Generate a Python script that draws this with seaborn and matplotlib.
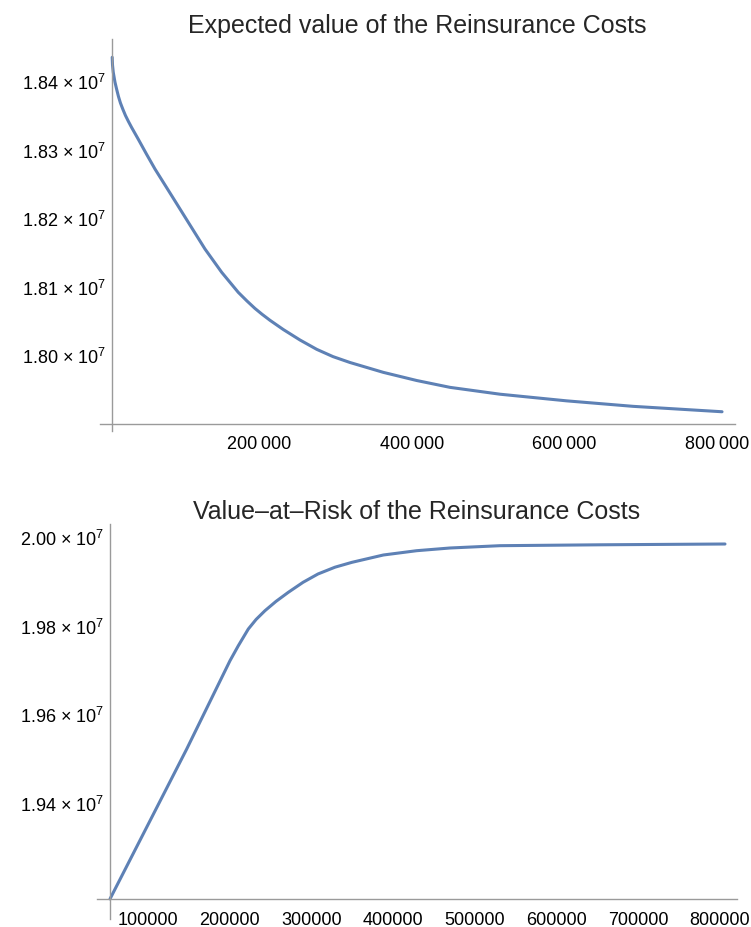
import matplotlib
matplotlib.use('Agg')
import matplotlib.pyplot as plt
import matplotlib.ticker as mticker
from matplotlib.transforms import ScaledTranslation
import seaborn as sns

# values
ev_limit = [300, 700, 1700, 3900, 6200, 8500, 11100, 14400, 17700, 21600, 25800,
            34500, 45200, 56400, 78300, 100100, 122000, 143900, 165600, 177100,
            187500, 196700, 207200, 224700, 246600, 268500, 289800, 312100,
            355800, 399600, 443300, 508900, 596300, 683300, 800000]
ev_cost = [18434600, 18423400, 18412700, 18398500, 18387600, 18377400, 18367900,
           18358400, 18349600, 18340900, 18332100, 18315000, 18293400, 18271500,
           18232600, 18193700, 18154700, 18120700, 18091500, 18078800, 18068000,
           18059600, 18050700, 18037200, 18021900, 18008300, 17997700, 17989100,
           17974700, 17962800, 17952800, 17942800, 17933100, 17925100, 17917200]

var_limit = [47240, 141100, 194100, 204300, 216500, 226000, 236900, 250400,
             265500, 283500, 301800, 322600, 343400, 381800, 422600, 463400,
             524600, 647000, 800000]
var_cost = [19184000, 19521900, 19721100, 19754900, 19792500, 19814000, 19833800,
            19854800, 19875300, 19897800, 19916600, 19931900, 19942900, 19959400,
            19969100, 19975200, 19980400, 19982400, 19984200]

ev_xticks = [200000, 400000, 600000, 800000]
ev_yticks = [1.80e7, 1.81e7, 1.82e7, 1.83e7, 1.84e7]
var_xticks = [100000, 200000, 300000, 400000, 500000, 600000, 700000, 800000]
var_yticks = [1.94e7, 1.96e7, 1.98e7, 2.00e7]

LINE = '#5E81B5'
AXC = '#9a9a9a'

sns.set_style('white')
plt.rcParams['font.family'] = ['Liberation Sans', 'DejaVu Sans']

fig = plt.figure(figsize=(7.51, 9.28), dpi=100)
ax1 = fig.add_axes([100 / 751, 496 / 928, 635 / 751, 392 / 928])
ax2 = fig.add_axes([97 / 751, 8 / 928, 640 / 751, 395 / 928])


def sci_label(v, pos):
    return f'{v / 1e7:.2f} × 10$^{{\\mathregular{{7}}}}$'


def style_axes(ax, x0, y0, xticks, yticks, xminor, yminor, xfmt, xpad):
    for s in ['top', 'right']:
        ax.spines[s].set_visible(False)
    ax.spines['left'].set_position(('data', x0))
    ax.spines['bottom'].set_position(('data', y0))
    for s in ['left', 'bottom']:
        ax.spines[s].set_color(AXC)
        ax.spines[s].set_linewidth(1.0)
    ax.set_xticks(xticks)
    ax.set_yticks(yticks)
    ax.xaxis.set_minor_locator(mticker.MultipleLocator(xminor))
    ax.yaxis.set_minor_locator(mticker.MultipleLocator(yminor))
    ax.xaxis.set_major_formatter(mticker.FuncFormatter(xfmt))
    ax.yaxis.set_major_formatter(mticker.FuncFormatter(sci_label))
    ax.tick_params(which='both', direction='in', color='#777777', width=0.75,
                   labelsize=13, labelcolor='black')
    ax.tick_params(axis='x', which='major', length=3, pad=xpad)
    ax.tick_params(axis='x', which='minor', length=2)
    ax.tick_params(axis='y', which='major', length=3, pad=4.3)
    ax.tick_params(axis='y', which='minor', length=2)
    ax.set_xlabel('')
    ax.set_ylabel('')
    ax.grid(False)
    # number labels sit a little left of their ticks in the original
    shift = ScaledTranslation(-5 / 100, 0, fig.dpi_scale_trans)
    for lab in ax.get_xticklabels():
        lab.set_transform(lab.get_transform() + shift)


# top: expected value
sns.lineplot(x=ev_limit, y=ev_cost, ax=ax1, color=LINE, linewidth=2.2,
             solid_joinstyle='round')
ax1.set_xlim(-15700, 817000)
ax1.set_ylim(17889100, 18461300)
style_axes(ax1, 0, 17899300, ev_xticks, ev_yticks, 50000, 20000,
           lambda v, p: f'{int(v) // 1000}\u2009{int(v) % 1000:03d}', 7.6)
ax1.set_title('Expected value of the Reinsurance Costs', fontsize=18, pad=5)

# bottom: value-at-risk
sns.lineplot(x=var_limit, y=var_cost, ax=ax2, color=LINE, linewidth=2.2,
             solid_joinstyle='round')
ax2.set_xlim(31300, 814700)
ax2.set_ylim(19138700, 20029300)
style_axes(ax2, var_limit[0], var_cost[0], var_xticks, var_yticks, 20000, 50000,
           lambda v, p: f'{int(v)}', 8.6)
ax2.set_title('Value\u2013at\u2013Risk of the Reinsurance Costs', fontsize=18, pad=4)

fig.savefig('out.png', dpi=100)
